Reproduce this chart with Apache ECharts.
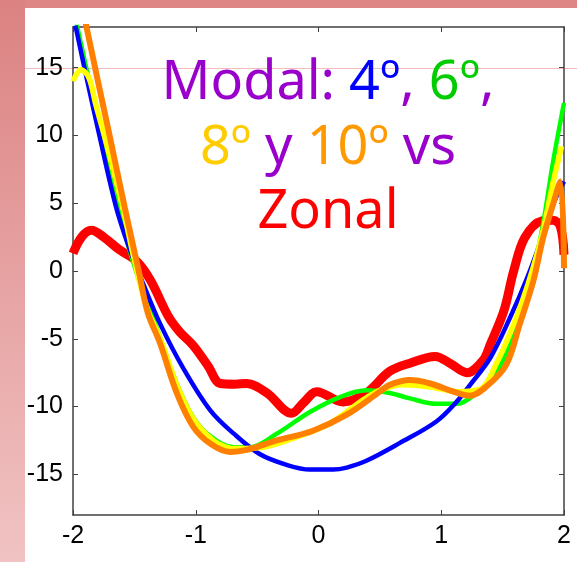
<!DOCTYPE html>
<html>
<head>
<meta charset="utf-8">
<script src="https://cdn.jsdelivr.net/npm/echarts@6/dist/echarts.min.js"></script>
<style>
html, body { margin: 0; padding: 0; }
#curve { width: 577px; height: 562px; }
</style>
</head>
<body>
<div id="curve"></div>
<script>
// tick labels
var xTicks = [-2, -1, 0, 1, 2];
var yTicks = [-15, -10, -5, 0, 5, 10, 15];

// Modal 4º (blue)
var modal4X = [-1.98, -1.9, -1.79, -1.65, -1.55, -1.43, -1.29, -1.1, -0.88, -0.69, -0.48, -0.26, -0.07, 0.12, 0.23, 0.39, 0.66, 0.96, 1.13, 1.235, 1.4, 1.56, 1.7, 1.82, 1.91, 2.0];
var modal4Y = [18.1, 14.7, 10.2, 4.75, 1.9, -0.9, -3.9, -7.2, -10.3, -12.0, -13.5, -14.3, -14.65, -14.65, -14.5, -14.0, -12.7, -11.1, -9.6, -8.4, -6.4, -3.45, -0.5, 2.45, 4.9, 6.6];

// Modal 6º (green)
var modal6X = [-2.0, -1.9, -1.79, -1.65, -1.54, -1.43, -1.29, -1.155, -1.02, -0.88, -0.69, -0.56, -0.34, -0.07, 0.175, 0.39, 0.58, 0.745, 0.96, 1.13, 1.26, 1.4, 1.53, 1.64, 1.75, 1.83, 1.91, 2.0];
var modal6Y = [19.5, 15.3, 11.0, 5.5, 1.55, -1.5, -4.9, -8.3, -10.8, -12.2, -13.0, -13.0, -12.0, -10.4, -9.3, -8.8, -9.0, -9.4, -9.8, -9.8, -9.2, -8.0, -6.1, -3.3, 0.0, 3.5, 8.0, 12.4];

// Modal 8º (yellow)
var modal8X = [-2.0, -1.935, -1.87, -1.815, -1.73, -1.59, -1.5, -1.4, -1.29, -1.155, -1.02, -0.86, -0.75, -0.67, -0.45, -0.18, 0.09, 0.365, 0.5, 0.69, 0.91, 1.13, 1.32, 1.45, 1.56, 1.65, 1.75, 1.83, 1.91, 1.98];
var modal8Y = [14.0, 14.85, 14.25, 12.3, 9.5, 4.5, 0.8, -2.7, -5.0, -8.4, -10.9, -12.5, -13.0, -13.1, -13.0, -12.25, -11.25, -9.5, -8.8, -8.4, -8.55, -8.9, -8.7, -6.8, -4.6, -2.5, 0.3, 3.0, 6.5, 9.2];

// Modal 10º (orange)
var modal10X = [-1.93, -1.89, -1.707, -1.58, -1.46, -1.39, -1.29, -1.155, -1.02, -0.88, -0.72, -0.585, -0.34, -0.05, 0.23, 0.5, 0.58, 0.745, 0.91, 1.1, 1.23, 1.37, 1.53, 1.64, 1.75, 1.83, 1.91, 1.97, 2.0];
var modal10Y = [20.0, 18.0, 10.2, 4.75, -0.2, -3.1, -5.35, -9.0, -11.5, -12.75, -13.35, -13.2, -12.5, -11.8, -10.6, -8.9, -8.4, -8.05, -8.3, -8.9, -9.2, -8.5, -6.9, -3.9, -0.74, 2.45, 4.9, 6.6, 0.2];

// Zonal (red)
var zonalX = [-2.0, -1.93, -1.85, -1.75, -1.62, -1.48, -1.37, -1.22, -1.13, -1.02, -0.9, -0.8, -0.68, -0.585, -0.42, -0.22, -0.12, -0.015, 0.2, 0.39, 0.58, 0.745, 0.95, 1.07, 1.21, 1.34, 1.4, 1.51, 1.59, 1.68, 1.82, 1.91, 1.97, 2.0];
var zonalY = [1.3, 2.5, 3.0, 2.5, 1.55, 0.7, -0.67, -3.4, -4.5, -5.5, -7.0, -8.3, -8.35, -8.3, -9.0, -10.5, -9.7, -8.9, -9.66, -9.0, -7.4, -6.8, -6.3, -6.8, -7.5, -6.6, -5.4, -2.95, 0.0, 2.45, 3.7, 3.75, 3.3, 1.2];

function pairs(xs, ys) {
    var out = [];
    for (var i = 0; i < xs.length; i++) {
        out.push([xs[i], ys[i]]);
    }
    return out;
}

function curve(name, xs, ys, color, width, z) {
    return {
        name: name,
        type: 'line',
        data: pairs(xs, ys),
        smooth: 0.35,
        showSymbol: false,
        clip: true,
        z: z,
        lineStyle: { color: color, width: width }
    };
}

var axisFont = 'Liberation Sans, Arial, sans-serif';
var titleFont = 'Noto Sans, sans-serif';

function rich(color) {
    return { fill: color, fontSize: 54, fontFamily: titleFont };
}
var titleRich = {
    p: rich('#9900cc'),
    b: rich('#0000ff'),
    g: rich('#00cc00'),
    y: rich('#ffcc00'),
    o: rich('#ff9900'),
    r: rich('#ff0000')
};

var myChart = echarts.init(document.getElementById('curve'));

var option = {
    backgroundColor: '#ffffff',
    animation: false,
    grid: { left: 73, right: 13, top: 27, bottom: 47 },
    xAxis: [{
        type: 'value',
        min: -2,
        max: 2,
        interval: 1,
        axisLine: { onZero: false, lineStyle: { color: '#404040', width: 1.5 } },
        axisTick: { inside: true, length: 5, lineStyle: { color: '#404040' } },
        axisLabel: { color: '#000', fontSize: 25, fontFamily: axisFont, margin: 9,
            customValues: xTicks },
        splitLine: { show: false }
    }, {
        type: 'value',
        position: 'top',
        min: -2,
        max: 2,
        interval: 1,
        axisLine: { onZero: false, lineStyle: { color: '#404040', width: 1.5 } },
        axisTick: { inside: true, length: 5, lineStyle: { color: '#404040' } },
        axisLabel: { show: false },
        splitLine: { show: false }
    }],
    yAxis: [{
        type: 'value',
        min: -18,
        max: 18,
        axisLine: { show: true, onZero: false, lineStyle: { color: '#404040', width: 1.5 } },
        axisTick: { inside: true, length: 5, customValues: yTicks, lineStyle: { color: '#404040' } },
        axisLabel: { color: '#000', fontSize: 25, fontFamily: axisFont, margin: 10,
            customValues: yTicks },
        splitLine: { show: false }
    }, {
        type: 'value',
        position: 'right',
        min: -18,
        max: 18,
        axisLine: { show: true, onZero: false, lineStyle: { color: '#404040', width: 1.5 } },
        axisTick: { inside: true, length: 5, customValues: yTicks, lineStyle: { color: '#404040' } },
        axisLabel: { show: false },
        splitLine: { show: false }
    }],
    graphic: [
        // marco rosa de la diapositiva
        { type: 'rect', z: -10, shape: { x: 0, y: 0, width: 577, height: 8 },
          style: { fill: '#de8686' } },
        { type: 'rect', z: -10, shape: { x: 0, y: 0, width: 25, height: 562 },
          style: { fill: new echarts.graphic.LinearGradient(0, 0, 0, 1, [
              { offset: 0, color: '#dc8282' },
              { offset: 1, color: '#f1c3c3' }
          ]) } },
        { type: 'line', z: -5, shape: { x1: 25, y1: 68.5, x2: 577, y2: 68.5 },
          style: { stroke: '#f3bcbc', lineWidth: 1 } },
        // titulo
        { type: 'text', z: 100, x: 328, y: 84,
          style: { text: '{p|Modal: }{b|4º}{p|, }{g|6º}{p|,}', align: 'center',
                   verticalAlign: 'middle', rich: titleRich } },
        { type: 'text', z: 100, x: 328, y: 149,
          style: { text: '{y|8º}{p| y }{o|10º}{p| vs}', align: 'center',
                   verticalAlign: 'middle', rich: titleRich } },
        { type: 'text', z: 100, x: 328, y: 213,
          style: { text: '{r|Zonal}', align: 'center',
                   verticalAlign: 'middle', rich: titleRich } }
    ],
    series: [
        curve('Zonal', zonalX, zonalY, '#ff0000', 9, 2),
        curve('6º', modal6X, modal6Y, '#00ff00', 4.5, 3),
        curve('4º', modal4X, modal4Y, '#0000ff', 4.5, 4),
        curve('8º', modal8X, modal8Y, '#ffff00', 5.5, 5),
        curve('10º', modal10X, modal10Y, '#ff8000', 6, 6)
    ]
};

myChart.setOption(option);
</script>
</body>
</html>
